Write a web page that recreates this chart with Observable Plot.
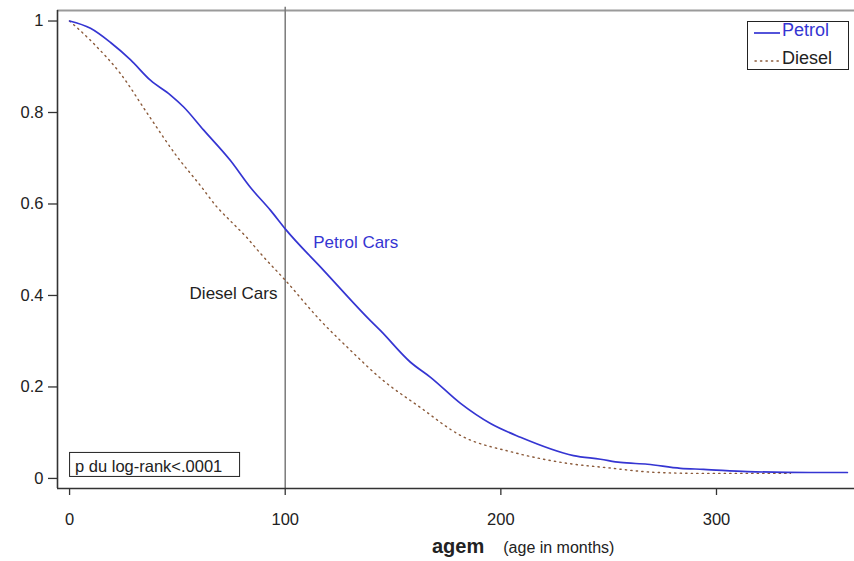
<!DOCTYPE html>
<html><head><meta charset="utf-8">
<script src="https://cdn.jsdelivr.net/npm/d3@7"></script>
<script src="https://cdn.jsdelivr.net/npm/@observablehq/plot@0.6"></script>
<style>
html,body{margin:0;padding:0;background:#fff;}
#chart{position:relative;width:854px;height:561px;}
</style></head><body><div id="chart"></div>
<script>
// ---- data ----
const petrolMonths = [0, 9.7, 19.0, 28.3, 37.6, 46.8, 52.9, 62.1, 74.6, 83.9, 93.2, 100.1, 117.8, 139.5, 144.2, 158.1, 167.4, 181.3, 195.2, 209.1, 233.7, 246.2, 255.4, 268.0, 283.3, 294.0, 314.3, 343.5, 360.7];
const petrolSurv   = [1.0, 0.984, 0.953, 0.915, 0.870, 0.838, 0.812, 0.762, 0.695, 0.636, 0.586, 0.545, 0.455, 0.345, 0.323, 0.254, 0.221, 0.164, 0.120, 0.090, 0.050, 0.042, 0.035, 0.031, 0.022, 0.020, 0.015, 0.013, 0.013];
const dieselMonths = [0, 11.1, 23.6, 36.2, 50.1, 60.7, 68.6, 74.6, 82.5, 88.5, 100.1, 116.4, 130.3, 144.2, 162.7, 181.3, 205.8, 230.9, 252.2, 261.5, 272.6, 294.0, 334.3];
const dieselSurv   = [1.0, 0.951, 0.885, 0.797, 0.702, 0.640, 0.592, 0.563, 0.525, 0.492, 0.433, 0.345, 0.280, 0.219, 0.155, 0.094, 0.057, 0.033, 0.022, 0.017, 0.013, 0.011, 0.011];
const xTicks = [0, 100, 200, 300];
const yTicks = [0, 0.2, 0.4, 0.6, 0.8, 1];
const seriesNames = ["Petrol", "Diesel"];
const curveLabels = ["Petrol Cars", "Diesel Cars"];
const pValueText = "p du log-rank<.0001";
const axisName = "agem";
const axisNote = "(age in months)";
const refMonth = 100;

// ---- build tables ----
const petrol = petrolMonths.map((m, i) => ({m, s: petrolSurv[i]}));
const diesel = dieselMonths.map((m, i) => ({m, s: dieselSurv[i]}));

const xDom = [-5.6, 364];
const yDom = [-0.022, 1.023];
const font = '"Liberation Sans", Arial, Helvetica, sans-serif';
const blue = "#3535d2";
const brown = "#8b5a3a";
const ink = "#222";

const plot = Plot.plot({
  width: 854, height: 561,
  marginLeft: 57, marginRight: 0, marginTop: 10, marginBottom: 73,
  style: {fontFamily: font, fontSize: "16.5px", color: ink, background: "#fff"},
  x: {domain: xDom},
  y: {domain: yDom},
  marks: [
    Plot.ruleY([yDom[1]], {stroke: "#9a9a9a", strokeWidth: 2}),
    Plot.ruleX([refMonth], {y1: yDom[0], y2: 1.03, stroke: "#7a7a7a", strokeWidth: 1.5}),
    Plot.line(diesel, {x: "m", y: "s", stroke: brown, strokeWidth: 1.4, strokeDasharray: "1.3,4.2", strokeLinecap: "round", curve: "monotone-x"}),
    Plot.line(petrol, {x: "m", y: "s", stroke: blue, strokeWidth: 1.7, curve: "monotone-x"}),
    Plot.text([curveLabels[0]], {x: 113, y: 0.503, text: d => d, textAnchor: "start", lineAnchor: "bottom", fill: blue, fontSize: 17}),
    Plot.text([curveLabels[1]], {x: 96.4, y: 0.393, text: d => d, textAnchor: "end", lineAnchor: "bottom", fill: ink, fontSize: 17}),
    Plot.axisY({ticks: yTicks, tickFormat: d => String(d), tickSize: 9, tickPadding: 5, label: null, stroke: "#333", strokeWidth: 1.3}),
    Plot.axisX({ticks: xTicks, tickFormat: d => String(d), tickSize: 7, tickPadding: 18, label: null, stroke: "#333", strokeWidth: 1.3}),
    Plot.ruleX([xDom[0]], {stroke: "#333", strokeWidth: 1.6}),
    Plot.ruleY([yDom[0]], {stroke: "#333", strokeWidth: 1.6})
  ]
});
document.getElementById("chart").appendChild(plot);

// ---- overlays: legend, p-value box, x-axis title ----
const svg = d3.select(plot);
const sx = plot.scale("x"), sy = plot.scale("y");

const lg = svg.append("g").attr("font-family", font).attr("font-size", 18).attr("text-anchor", "start");
lg.append("rect").attr("x", 747.5).attr("y", 21.5).attr("width", 101).attr("height", 48)
  .attr("fill", "#fff").attr("stroke", ink).attr("stroke-width", 1);
lg.append("line").attr("x1", 754).attr("x2", 780).attr("y1", 33).attr("y2", 33)
  .attr("stroke", blue).attr("stroke-width", 1.7);
lg.append("text").attr("x", 782).attr("y", 36).attr("fill", blue).text(seriesNames[0]);
lg.append("line").attr("x1", 755).attr("x2", 780).attr("y1", 61).attr("y2", 61)
  .attr("stroke", brown).attr("stroke-width", 1.4).attr("stroke-dasharray", "1.3,4.2").attr("stroke-linecap", "round");
lg.append("text").attr("x", 782).attr("y", 64).attr("fill", ink).text(seriesNames[1]);

const px0 = sx.apply(0), py0 = sy.apply(0);
const pg = svg.append("g").attr("font-family", font).attr("font-size", 16.5).attr("text-anchor", "start");
pg.append("rect").attr("x", px0 + 0.5).attr("y", py0 - 25.5).attr("width", 170).attr("height", 24)
  .attr("fill", "#fff").attr("stroke", ink).attr("stroke-width", 1);
pg.append("text").attr("x", px0 + 6).attr("y", py0 - 6).attr("fill", ink).text(pValueText);

const at = svg.append("text").attr("x", 432).attr("y", 553).attr("font-family", font)
  .attr("fill", ink).attr("text-anchor", "start");
at.append("tspan").attr("font-weight", "bold").attr("font-size", 20).text(axisName);
at.append("tspan").attr("dx", 19).attr("font-size", 16).text(axisNote);
</script>
</body></html>
